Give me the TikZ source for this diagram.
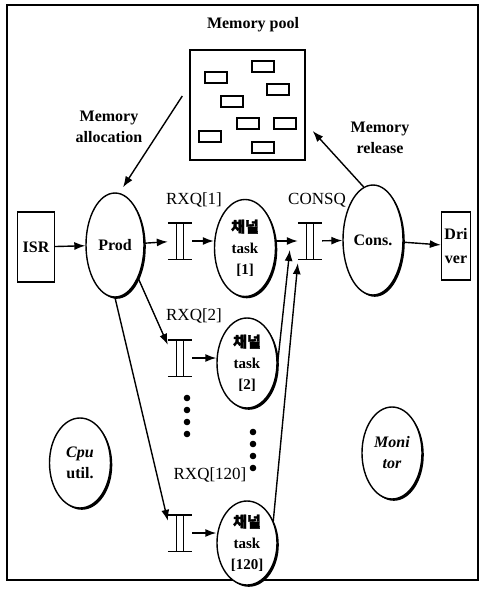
\documentclass[tikz,border=0pt]{standalone}
\usepackage{fontspec}
\setmainfont{Liberation Serif}
\newfontfamily\cjk[FakeBold=2]{Noto Sans CJK KR}
\usetikzlibrary{arrows.meta,shapes.geometric,shadows}

\tikzset{
  proc/.style={ellipse, draw, line width=1.4pt, fill=white, inner sep=0pt, align=center,
    font=\bfseries\fontsize{15}{21}\selectfont,
    drop shadow={shadow xshift=1.8pt, shadow yshift=-1.8pt, opacity=1, fill=black}},
  box/.style={rectangle, draw, line width=1.4pt, inner sep=0pt, align=center,
    font=\bfseries\fontsize{16}{24}\selectfont},
  queue/.style={rectangle, minimum width=24pt, minimum height=36pt, inner sep=0pt},
  arr/.style={line width=1.4pt, -{Latex[length=11pt,width=8pt]}},
  lbl/.style={font=\fontsize{17}{20}\selectfont, align=center},
  memlbl/.style={font=\bfseries\fontsize{16}{21}\selectfont, align=center},
}
\newcommand\qbars[1]{%
  \draw[line width=1.4pt] (#1.north west) -- (#1.north east) (#1.south west) -- (#1.south east)
    ([xshift=-3.5pt]#1.north) -- ([xshift=-3.5pt]#1.south)
    ([xshift=3.5pt]#1.north) -- ([xshift=3.5pt]#1.south);}

\begin{document}
\begin{tikzpicture}[x=1pt,y=-1pt]
  \useasboundingbox (0,0) rectangle (483,589);
  \draw[line width=1.2pt] (7,5) rectangle (478,580);
  % memory pool
  \node[memlbl] (pooltitle) at (253,25) {Memory pool};
  \node[box, minimum width=115pt, minimum height=110pt] (pool) at (247.5,105) {};
  \foreach \x/\y in {205/72,252/61,267/84,221/96,237/118,274/118,199/131,252/142}
    \draw[line width=1.4pt] (\x,\y) rectangle ++(22,11);
  \node[memlbl] (alloc) at (109,127) {Memory\\allocation};
  \node[memlbl] (release) at (380,138) {Memory\\release};
  % tasks and queues
  \node[box, minimum width=37pt, minimum height=70pt] (isr) at (36,247) {ISR};
  \node[proc, minimum width=58pt, minimum height=104pt, font=\bfseries\fontsize{16}{21}\selectfont] (prod) at (115,245) {Prod};
  \node[queue] (q1) at (180,241) {};
  \node[queue] (q2) at (180,358) {};
  \node[queue] (q120) at (180,533) {};
  \node[queue] (cq) at (310,241) {};
  \foreach \q in {q1,q2,q120,cq} \qbars{\q};
  \node[lbl] (l1) at (194,200) {RXQ[1]};
  \node[lbl] (l2) at (194,316) {RXQ[2]};
  \node[lbl] (l120) at (210,475) {RXQ[120]};
  \node[lbl] (lc) at (317,200) {CONSQ};
  \node[proc, minimum width=61pt, minimum height=97pt] (t1) at (245,248) {{\cjk 채널}\\task\\{[1]}};
  \node[proc, minimum width=60pt, minimum height=90pt] (t2) at (247,363) {{\cjk 채널}\\task\\{[2]}};
  \node[proc, minimum width=60pt, minimum height=84pt] (t120) at (247,543) {{\cjk 채널}\\task\\{[120]}};
  \node[proc, minimum width=60pt, minimum height=110pt, font=\bfseries\fontsize{16}{21}\selectfont] (cons) at (373,240) {Cons.};
  \node[box, minimum width=29pt, minimum height=68pt] (drv) at (456,246) {Dri\\ver};
  \node[proc, minimum width=61pt, minimum height=90pt, font=\bfseries\fontsize{16}{21}\selectfont] (cpu) at (80,463) {\textit{Cpu}\\util.};
  \node[proc, minimum width=60pt, minimum height=92pt, font=\bfseries\fontsize{16}{21}\selectfont] (mon) at (392,453) {\textit{Moni}\\\textit{tor}};
  % dots
  \foreach \y in {398,410,422,434} \fill (187,\y) circle (3.3pt);
  \foreach \y in {432,444,456,468} \fill (253,\y) circle (3.3pt);
  % connectors
  \draw[arr] (isr) -- (prod);
  \draw[arr] (prod) -- (q1);
  \draw[arr] (q1) -- (q1 -| t1.west);
  \draw[arr] (t1.east |- cq) -- (cq);
  \draw[arr] (cq) -- (cons);
  \draw[arr] (cons) -- (drv);
  \draw[arr] (prod.-55) -- ([yshift=-5pt]q2.north west);
  \draw[arr] (prod.south) -- ([yshift=-6pt]q120.north west);
  \draw[arr] (q2) -- (q2 -| t2.west);
  \draw[arr] (q120) -- (q120 -| t120.west);
  \draw[arr] (t2.-27) -- ([xshift=-8pt,yshift=-9pt]cq.west);
  \draw[arr] (t120.40) -- ([yshift=-4pt]cq.south west);
  \draw[arr] ([xshift=-7pt,yshift=9pt]pool.west) -- ([xshift=8pt,yshift=5pt]prod.north);
  \draw[arr] (cons.100) -- ([xshift=7pt,yshift=-26pt]pool.east);
\end{tikzpicture}
\end{document}
